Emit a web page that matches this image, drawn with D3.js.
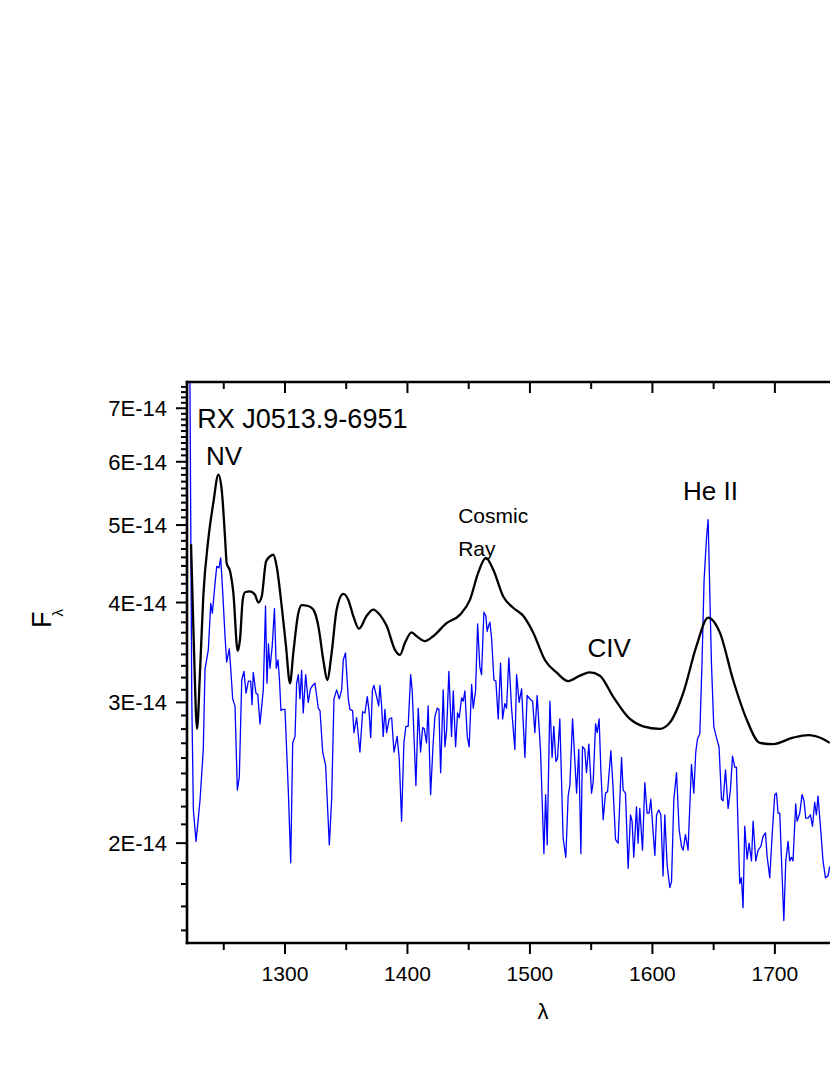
<!DOCTYPE html>
<html><head><meta charset="utf-8">
<script src="https://cdn.jsdelivr.net/npm/d3@7"></script>
<style>body{margin:0;background:#fff}svg{display:block}text{font-family:"Liberation Sans",Arial,sans-serif;fill:#000}</style>
</head><body><svg id="c" width="830" height="1075"></svg>
<script>
// ---- data (flux in units of 1E-14) ----
const blackWave = [1223.3,1225.7,1228.2,1230.6,1233.3,1237.4,1241.5,1245.6,1248.3,1251.0,1252.4,1255.1,1257.8,1261.4,1263.3,1265.5,1267.4,1271.4,1275.5,1278.2,1281.0,1284.5,1287.8,1290.5,1293.2,1297.3,1300.8,1304.1,1306.8,1310.9,1313.6,1319.0,1323.1,1327.2,1331.3,1334.5,1338.1,1342.2,1347.6,1351.7,1355.7,1360.4,1366.7,1372.1,1377.5,1383.0,1389.8,1393.9,1397.9,1403.4,1407.5,1414.3,1421.0,1432.0,1442.8,1451.0,1457.8,1464.0,1470.0,1478.2,1486.3,1494.5,1502.6,1512.2,1521.7,1531.2,1540.8,1548.9,1557.1,1567.9,1581.6,1592.4,1606.0,1614.2,1625.1,1636.0,1645.5,1655.0,1665.9,1676.8,1687.7,1698.5,1714.8,1727.1,1739.3,1744.8];
const blackFlux = [4.73,3.49,2.78,3.27,4.07,4.80,5.33,5.78,5.54,4.84,4.48,4.38,4.12,3.48,3.60,4.03,4.12,4.13,4.09,4.00,4.07,4.50,4.57,4.59,4.44,3.96,3.53,3.17,3.46,3.88,3.97,3.96,3.92,3.74,3.39,3.20,3.46,3.92,4.10,4.03,3.85,3.71,3.85,3.92,3.86,3.74,3.49,3.44,3.56,3.67,3.63,3.58,3.63,3.77,3.86,4.03,4.36,4.55,4.40,4.07,3.94,3.85,3.67,3.39,3.27,3.19,3.24,3.27,3.24,3.05,2.86,2.80,2.78,2.83,3.08,3.53,3.83,3.67,3.20,2.86,2.67,2.66,2.71,2.73,2.70,2.67];

const blueWave = [1222.3,1223.9,1225.2,1227.4,1230.6,1233.3,1234.7,1237.4,1239.4,1240.7,1242.9,1244.3,1246.1,1247.5,1249.2,1251.0,1252.4,1254.5,1255.7,1257.3,1259.2,1261.1,1262.7,1264.7,1266.5,1268.2,1270.1,1272.0,1273.1,1274.1,1276.3,1277.8,1279.6,1282.3,1284.1,1285.3,1286.5,1287.8,1289.6,1291.4,1292.9,1294.3,1295.5,1296.7,1298.1,1300.0,1302.7,1304.7,1306.3,1308.2,1309.5,1310.9,1312.2,1313.6,1314.9,1316.9,1319.0,1320.8,1322.6,1324.5,1327.2,1328.6,1330.8,1333.2,1336.2,1338.1,1340.0,1342.2,1344.3,1346.3,1347.6,1349.4,1351.7,1353.0,1355.2,1356.3,1358.5,1361.2,1363.4,1365.3,1367.2,1368.6,1370.0,1371.4,1372.6,1374.8,1376.5,1377.5,
1378.9,1380.2,1381.6,1383.0,1385.1,1387.1,1389.0,1391.6,1393.3,1395.2,1397.1,1398.7,1400.6,1402.6,1403.9,1406.9,1408.8,1410.7,1412.4,1413.7,1415.6,1416.9,1418.9,1421.0,1422.4,1424.3,1425.7,1427.1,1429.2,1430.6,1432.0,1433.8,1436.0,1437.4,1439.3,1440.9,1442.3,1444.2,1445.5,1446.9,1448.8,1450.4,1452.4,1453.7,1455.6,1457.3,1459.1,1460.5,1462.4,1464.0,1465.1,1466.2,1467.3,1468.7,1470.6,1472.2,1474.1,1476.0,1477.7,1479.5,1480.9,1482.8,1485.0,1487.7,1489.1,1491.2,1493.2,1495.9,1497.7,1500.0,1502.2,1504.0,1505.9,1508.7,1511.4,1512.8,1514.1,1516.3,1518.1,1519.5,1521.2,1522.5,1524.4,1527.1,1529.3,1531.2,1532.6,1534.8,1538.1,1539.9,1541.6,1542.9,1544.8,1546.2,1548.1,1550.3,1551.6,1553.6,1554.9,1556.5,1557.9,1559.8,1561.7,1563.4,1566.1,1567.9,1569.9,1572.0,1574.8,1576.1,1578.0,1580.2,1582.1,1583.4,1584.8,1587.0,1588.3,1589.7,1591.9,1593.8,1595.7,1597.3,1598.7,1600.6,1602.0,1603.4,1605.2,1606.9,1608.7,1610.1,1612.0,1614.2,1615.6,1617.5,1619.7,1621.8,1623.8,1625.1,1627.0,1629.1,1631.9,1633.8,1635.4,1636.8,1638.7,1640.5,1642.2,1644.1,1645.5,1646.8,1648.2,1650.1,1652.3,1654.4,1656.4,1657.7,1659.7,1661.8,1663.7,1665.4,1667.2,1668.6,1669.9,1671.3,1672.7,1674.0,1675.4,1677.3,1678.9,1680.9,1682.2,1684.4,1686.3,1688.5,1690.4,1692.3,1693.6,1695.8,1697.7,1699.9,1701.3,1702.6,1704.0,1705.4,1707.3,1708.9,1710.8,1712.1,1713.5,1714.8,1717.0,1718.1,1720.3,1722.2,1723.8,1725.2,1727.1,1729.0,1730.7,1732.5,1733.9,1735.2,1737.2,1739.3,1741.3,1743.4,1744.8];
const blueFlux = [8.0,3.03,2.20,2.01,2.26,2.62,3.30,3.49,3.99,3.88,4.23,4.44,4.42,4.55,4.11,3.64,3.37,3.50,3.31,3.03,2.97,2.33,2.42,3.20,3.28,3.08,3.19,3.19,2.98,3.27,3.08,3.07,2.82,3.11,3.96,3.17,3.55,3.31,3.53,3.93,3.31,3.39,3.20,2.93,2.94,2.94,2.33,1.89,2.67,2.72,3.17,3.25,3.03,3.29,2.91,3.25,3.00,3.12,3.15,3.17,2.95,2.93,2.60,2.50,1.99,2.27,3.03,3.11,3.03,3.11,3.39,3.46,3.03,2.94,2.93,2.75,2.87,2.60,2.92,2.91,3.05,2.93,2.71,3.11,3.15,3.05,2.97,3.15,
2.97,2.72,2.94,2.75,2.86,2.87,2.60,2.72,2.55,2.13,2.67,2.80,2.80,3.25,3.10,2.36,2.95,2.60,2.79,2.78,2.67,2.97,2.30,2.67,2.88,2.95,2.94,2.45,3.11,2.64,2.77,3.28,2.72,3.10,2.64,2.91,2.87,3.04,3.01,3.10,2.72,2.64,3.16,2.95,3.10,3.76,3.32,3.25,3.89,3.85,3.68,3.74,3.78,3.61,3.20,3.19,2.86,3.36,2.86,2.99,2.95,3.41,2.95,2.62,3.25,3.00,3.12,2.56,3.06,3.03,3.01,2.75,3.06,2.60,1.94,2.30,1.99,3.01,2.56,2.80,2.53,2.55,2.86,2.03,1.92,2.29,2.36,2.86,2.31,2.62,1.94,2.64,2.62,2.45,2.66,2.31,2.38,2.82,2.75,2.86,2.47,2.14,2.31,2.32,2.61,2.34,2.02,2.00,2.56,2.33,2.31,1.86,2.17,2.13,1.92,2.22,2.00,2.21,1.96,2.38,2.18,2.18,2.27,2.06,1.93,2.17,2.20,2.17,1.82,2.17,1.88,1.76,1.79,2.27,2.45,2.08,1.98,1.96,2.05,1.96,2.51,2.31,2.60,2.70,2.74,3.36,4.27,4.80,5.08,4.15,3.36,2.80,2.71,2.64,2.27,2.26,2.47,2.21,2.33,2.57,2.49,2.49,2.10,1.78,1.81,1.66,2.10,1.91,2.00,1.90,2.13,1.90,1.96,1.98,2.04,2.06,1.93,1.81,2.04,2.30,2.31,2.18,2.18,1.91,1.60,1.90,2.01,1.90,1.92,1.90,2.24,2.13,2.18,2.30,2.26,2.15,2.15,2.17,2.10,2.25,2.17,2.29,2.10,1.90,1.81,1.82,1.87];

const xMajorTicks = [1300,1400,1500,1600,1700];
const xMinorTicks = [1250,1350,1450,1550,1650];
const yMajorTicks = [2,3,4,5,6,7];
const yTickLabels = ["2E-14","3E-14","4E-14","5E-14","6E-14","7E-14"];
const annotations = [
  {text:"RX J0513.9-6951", w:1228.4, f:6.62, size:27},
  {text:"NV", w:1235.5, f:5.95, size:26},
  {text:"Cosmic", w:1441.4, f:5.03, size:21},
  {text:"Ray", w:1441.4, f:4.58, size:21},
  {text:"CIV", w:1547.0, f:3.42, size:26},
  {text:"He II", w:1625.0, f:5.38, size:26}
];

// ---- layout ----
const svg = d3.select("#c");
const L = 187, R = 830, T = 382, B = 943;
const x = d3.scaleLinear().domain([1220, 1745]).range([L, R]);
const y = d3.scaleLog().domain([1.5, 7.55]).range([B, T]);

svg.append("defs").append("clipPath").attr("id","clip")
  .append("rect").attr("x",L).attr("y",T).attr("width",R-L).attr("height",B-T);

// minor y ticks: 8 between each integer
const yMinor = [];
for (let k = 1; k <= 7; k++) {
  for (let j = 1; j <= 8; j++) {
    const v = k + j/9;
    if (v > 1.5 && v < 7.55) yMinor.push(v);
  }
}

// curves
const plot = svg.append("g").attr("clip-path","url(#clip)");
const blueData = blueWave.map((w,i)=>[w, blueFlux[i]]);
const blackData = blackWave.map((w,i)=>[w, blackFlux[i]]);
plot.append("path").datum(blueData)
  .attr("d", d3.line().x(d=>x(d[0])).y(d=>y(d[1])))
  .attr("fill","none").attr("stroke","#0000ff").attr("stroke-width",1.3).attr("stroke-linejoin","round");
plot.append("path").datum(blackData)
  .attr("d", d3.line().x(d=>x(d[0])).y(d=>y(d[1])).curve(d3.curveMonotoneX))
  .attr("fill","none").attr("stroke","#000").attr("stroke-width",2.3).attr("stroke-linejoin","round");

// axes
const ax = svg.append("g").attr("stroke","#000").attr("fill","none");
ax.append("line").attr("x1",L).attr("x2",L).attr("y1",T-1.3).attr("y2",B+1.3).attr("stroke-width",2.6);
ax.append("line").attr("x1",L-1.3).attr("x2",R).attr("y1",B).attr("y2",B).attr("stroke-width",2.6);
ax.append("line").attr("x1",L-1.3).attr("x2",R).attr("y1",T).attr("y2",T).attr("stroke-width",2.6);

yMajorTicks.forEach(v=>{
  ax.append("line").attr("x1",L-11).attr("x2",L).attr("y1",y(v)).attr("y2",y(v)).attr("stroke-width",2);
});
yMinor.forEach(v=>{
  ax.append("line").attr("x1",L-6).attr("x2",L).attr("y1",y(v)).attr("y2",y(v)).attr("stroke-width",2);
});
xMajorTicks.forEach(v=>{
  ax.append("line").attr("x1",x(v)).attr("x2",x(v)).attr("y1",B).attr("y2",B+11).attr("stroke-width",2);
  ax.append("line").attr("x1",x(v)).attr("x2",x(v)).attr("y1",T).attr("y2",T+11).attr("stroke-width",2);
});
xMinorTicks.forEach(v=>{
  ax.append("line").attr("x1",x(v)).attr("x2",x(v)).attr("y1",B).attr("y2",B+7).attr("stroke-width",2);
  ax.append("line").attr("x1",x(v)).attr("x2",x(v)).attr("y1",T).attr("y2",T+7).attr("stroke-width",2);
});

// tick labels
yMajorTicks.forEach((v,i)=>{
  svg.append("text").attr("x",167).attr("y",y(v)+8).attr("text-anchor","end")
    .attr("font-size",22).text(yTickLabels[i]);
});
xMajorTicks.forEach(v=>{
  svg.append("text").attr("x",x(v)).attr("y",981).attr("text-anchor","middle")
    .attr("font-size",21).text(String(v));
});

// axis titles
svg.append("text").attr("x",543).attr("y",1019).attr("text-anchor","middle")
  .attr("font-size",22).text("λ");
const yt = svg.append("text").attr("transform","translate(51,628) rotate(-90)").attr("font-size",27);
yt.append("tspan").text("F");
yt.append("tspan").attr("font-size",15).attr("dx",-5).attr("dy",12).text("λ");

// annotations
annotations.forEach(a=>{
  svg.append("text").attr("x",x(a.w)).attr("y",y(a.f)).attr("font-size",a.size).text(a.text);
});
</script></body></html>
